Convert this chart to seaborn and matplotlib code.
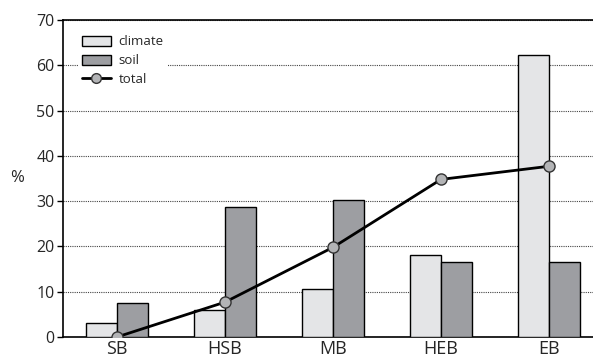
import numpy as np
import pandas as pd
import matplotlib
matplotlib.use('Agg')
import matplotlib.pyplot as plt
import seaborn as sns
from matplotlib.patches import Patch
from matplotlib.lines import Line2D

categorias = ['SB', 'HSB', 'MB', 'HEB', 'EB']
climate = [3.0, 6.0, 10.7, 18.0, 62.3]
soil = [7.5, 28.7, 30.3, 16.5, 16.5]
total = [0.0, 7.7, 19.8, 34.8, 37.7]

sns.set_style('white')
plt.rcParams['font.family'] = ['Open Sans', 'DejaVu Sans']

dados = pd.DataFrame({
    'cat': categorias * 2,
    'valor': climate + soil,
    'tipo': ['climate'] * 5 + ['soil'] * 5,
})

fig = plt.figure(figsize=(5.93, 3.6), dpi=100)
ax = fig.add_axes([63 / 593, 23 / 360, 540 / 593, 317 / 360])

sns.barplot(data=dados, x='cat', y='valor', hue='tipo', order=categorias,
            palette={'climate': '#e4e5e7', 'soil': '#9d9ea2'}, width=0.58,
            gap=0, edgecolor='black', linewidth=1.0, saturation=1, ax=ax,
            legend=False, zorder=3)

sns.lineplot(x=np.arange(len(total)), y=total, color='black', linewidth=2,
             marker='o', markersize=8, markerfacecolor='#b3b4b6',
             markeredgecolor='#333333', markeredgewidth=1, ax=ax, zorder=4)

ax.set_xlim(-0.5, 4.5)
ax.set_ylim(0, 70)
ax.set_yticks(range(0, 71, 10))
ax.yaxis.grid(True, linestyle=(0, (1, 1)), color='#444444', linewidth=0.8, zorder=0)
ax.set_axisbelow(True)

ax.set_xticks(np.arange(-0.5, 5, 1), minor=True)
ax.tick_params(axis='x', which='major', length=0, labelsize=13, pad=2)
ax.tick_params(axis='x', which='minor', length=5, width=1, color='black', direction='out')
ax.tick_params(axis='y', length=4, width=1, color='black', direction='out', labelsize=11.5, pad=2, left=True)

for s in ['left', 'bottom', 'top']:
    ax.spines[s].set_color('black')
    ax.spines[s].set_linewidth(1.2)
ax.spines['right'].set_visible(False)

ax.set_xlabel('')
ax.set_ylabel('%', fontsize=12, rotation=0, labelpad=14, va='center')

handles = [
    Patch(facecolor='#e4e5e7', edgecolor='black', linewidth=1, label='climate'),
    Patch(facecolor='#9d9ea2', edgecolor='black', linewidth=1, label='soil'),
    Line2D([0], [0], color='black', linewidth=2, marker='o', markersize=7,
           markerfacecolor='#b3b4b6', markeredgecolor='#333333', label='total'),
]
leg = ax.legend(handles=handles, loc='upper left', bbox_to_anchor=(0.015, 0.985),
                fontsize=9.5, frameon=True, facecolor='white', edgecolor='none',
                framealpha=1, fancybox=False, handlelength=2.2, handleheight=0.8,
                labelspacing=0.45, borderpad=0.3, handletextpad=0.6)
leg.set_zorder(5)

fig.savefig('out.png', dpi=100)
